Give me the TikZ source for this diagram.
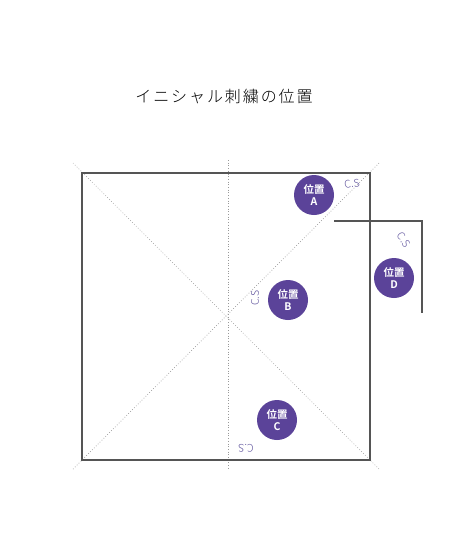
\documentclass[tikz,border=0pt]{standalone}
\usepackage{fontspec}
\setmainfont{Noto Sans CJK JP}
\newfontfamily\cjklight{Noto Sans CJK JP Light}
\newfontfamily\cjkbold{Noto Sans CJK JP Bold}
\definecolor{posfill}{HTML}{5B4399}
\definecolor{cslabel}{HTML}{5B4F9A}
\definecolor{framegray}{HTML}{555555}
\definecolor{guidegray}{HTML}{999999}
\tikzset{
  frameline/.style={draw=framegray, line width=1.1pt},
  guideline/.style={draw=guidegray, line width=0.7pt, dotted},
  posmark/.style={circle, fill=posfill, minimum size=40pt, inner sep=0pt,
    text=white, align=center, font=\cjkbold\fontsize{10.5}{12}\selectfont},
  cstext/.style={text=cslabel, font=\cjklight\fontsize{10.5}{10.5}\selectfont, inner sep=0pt}
}
\begin{document}
\begin{tikzpicture}[x=1pt,y=-1pt]
  \useasboundingbox (0,0) rectangle (460,552);
  % title
  \node (title) at (224,96) {\cjklight\addfontfeatures{LetterSpace=12}\fontsize{16}{16}\selectfont イニシャル刺繍の位置};
  % corners of the square
  \coordinate (tl) at (82,173);
  \coordinate (tr) at (370,173);
  \coordinate (bl) at (82,460);
  \coordinate (br) at (370,460);
  % guide ends
  \coordinate (gtl) at (73,163);
  \coordinate (gbr) at (379,469);
  \coordinate (gbl) at (73,469);
  \coordinate (gtr) at (379,163);
  \coordinate (gtop) at (228,160);
  \coordinate (gbot) at (228,470);
  \draw[guideline] (gtl) -- (gbr);
  \draw[guideline] (gbl) -- (gtr);
  \draw[guideline] (gtop) -- (gbot);
  \draw[frameline] (tl) -- (tr) -- (br) -- (bl) -- cycle;
  % pocket edge
  \coordinate (p0) at (334,221);
  \coordinate (p1) at (422,221);
  \coordinate (p2) at (422,313);
  \draw[frameline] (p0) -- (p1) -- (p2);
  % positions
  \node[posmark] (posA) at (314,195) {位置\\A};
  \node[posmark] (posB) at (288,300) {位置\\B};
  \node[posmark] (posC) at (277,420) {位置\\C};
  \node[posmark] (posD) at (394,278) {位置\\D};
  % C.S marks
  \node[cstext, rotate=8] (csA) at (352,184) {C.S};
  \node[cstext, rotate=-55] (csD) at (404,240) {C.S};
  \node[cstext, rotate=90] (csB) at (255,298) {C.S};
  \node[cstext, rotate=180] (csC) at (246,448) {C.S};
\end{tikzpicture}
\end{document}
